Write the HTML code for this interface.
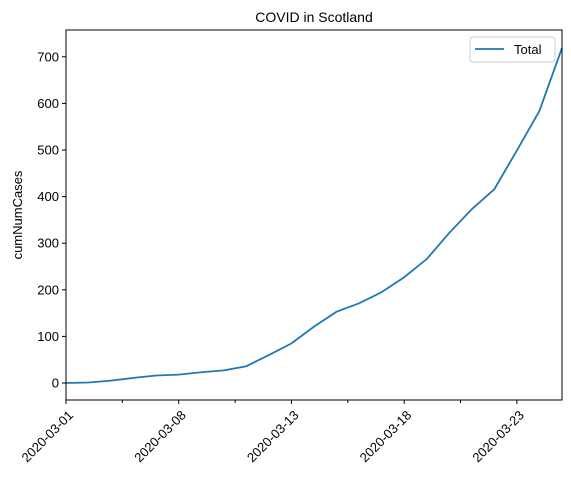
<!DOCTYPE html>
<html><head><meta charset="utf-8"><style>body{margin:0;background:#fff}svg{display:block;font-family:"Liberation Sans","DejaVu Sans",sans-serif}</style></head>
<body>
<svg id="c" width="571" height="486"></svg>
<script>
const categories=["2020-03-01","2020-03-02","2020-03-03","2020-03-04","2020-03-05","2020-03-08","2020-03-09","2020-03-10","2020-03-11","2020-03-12","2020-03-13","2020-03-14","2020-03-15","2020-03-16","2020-03-17","2020-03-18","2020-03-19","2020-03-20","2020-03-21","2020-03-22","2020-03-23","2020-03-24","2020-03-25"];
const totalValues=[0,1,5,11,16,18,23,27,36,60,85,121,153,171,195,227,266,322,373,416,499,584,719];
const yTicks=[0,100,200,300,400,500,600,700];
const xTickIdx=[0,5,10,15,20];
const xMinorIdx=[2.5,7.5,12.5,17.5];
const L=66,R=562,T=30,B=400,ymin=-36.5,ymax=757.5;
const sx=i=>L+(R-L)*i/(categories.length-1);
const sy=v=>B-(B-T)*(v-ymin)/(ymax-ymin);
const svg=document.getElementById('c');const NS='http://www.w3.org/2000/svg';
function mk(t,a,p){const e=document.createElementNS(NS,t);for(const k in a)e.setAttribute(k,a[k]);(p||svg).appendChild(e);return e;}
let t=mk('text',{x:(L+R)/2,y:22,'text-anchor':'middle','font-size':14,fill:'#000'});t.textContent='COVID in Scotland';


t=mk('text',{x:0,y:0,transform:`translate(22,${(T+B)/2}) rotate(-90)`,'text-anchor':'middle','font-size':13});t.textContent='cumNumCases';


yTicks.forEach(v=>{const y=sy(v);mk('line',{x1:L-4,x2:L,y1:y,y2:y,stroke:'#000'});
const e=mk('text',{x:L-7,y:y+4.5,'text-anchor':'end','font-size':13});e.textContent=v;

});
xMinorIdx.forEach(i=>mk('line',{x1:sx(i),x2:sx(i),y1:B,y2:B+3,stroke:'#000'}));
xTickIdx.forEach(i=>{const x=sx(i);mk('line',{x1:x,x2:x,y1:B,y2:B+4,stroke:'#000'});
const e=mk('text',{x:0,y:0,transform:`translate(${x+8},${B+16}) rotate(-45)`,'text-anchor':'end','font-size':13});e.textContent=categories[i];

});
const line=mk('polyline',{points:totalValues.map((v,i)=>sx(i)+','+sy(v)).join(' '),fill:'none',stroke:'#1f77b4','stroke-width':1.8});


const fr=mk('rect',{x:L,y:T,width:R-L,height:B-T,fill:'none',stroke:'#000','stroke-width':1});


const g=mk('g',{});


mk('rect',{x:470,y:37,width:85,height:25,rx:3,fill:'#fff',stroke:'#ccc'},g);
mk('line',{x1:475,x2:504,y1:49,y2:49,stroke:'#1f77b4','stroke-width':1.8},g);
t=mk('text',{x:514,y:54,'font-size':13},g);t.textContent='Total';
</script>
</body></html>
